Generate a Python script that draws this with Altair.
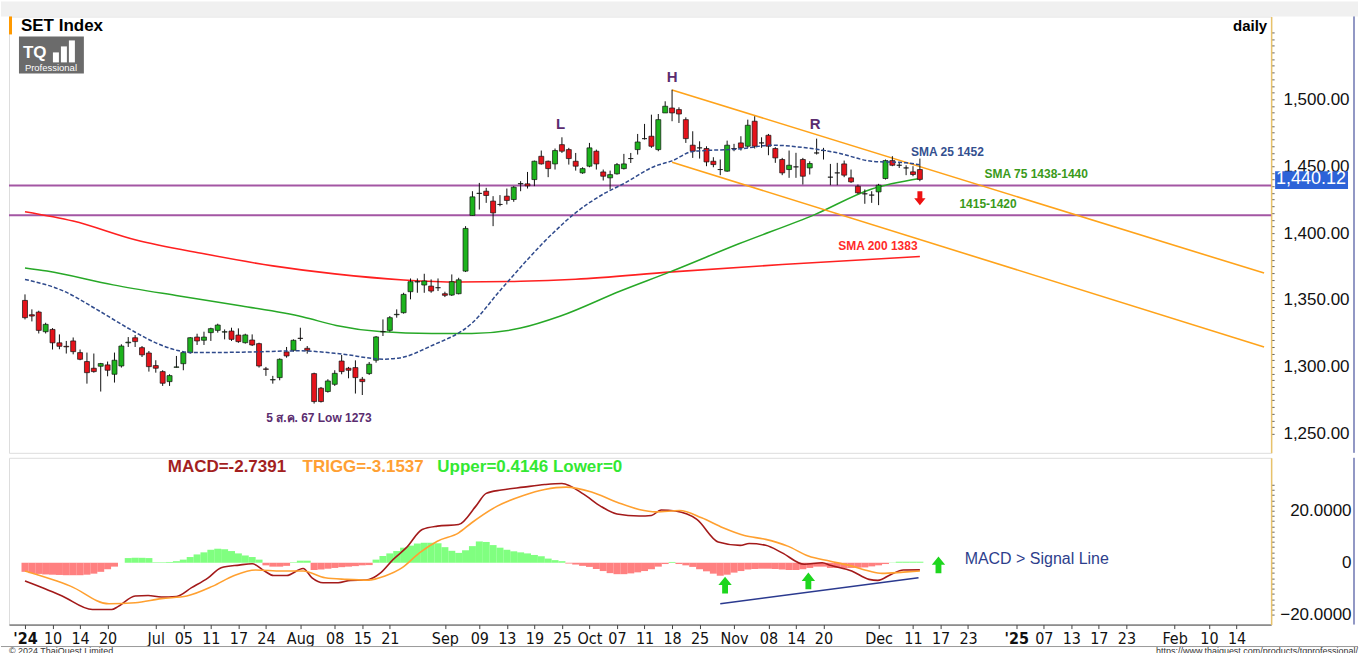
import json
import altair as alt
import pandas as pd

# ---------------- data ----------------
# trading-day index 0 = 4 Jun 2024 ... 130 = 12 Dec 2024
opens = [1349.7,1339,1341,1326.3,1328,1318,1315.4,1319.4,1310.7,1304,1299,1300.5,1301.5,1294.5,1300.7,1318,1321.8,1314.4,1310.4,1301,
         1296.5,1289,1299.7,1302.4,1310.7,1322.3,1319.9,1325.6,1327.3,1326,1326.8,1323.8,1318.1,1320.1,1317.4,1298.5,1290.3,1292,1311.2,1312.4,
         1321.4,1313.9,1295,1284.1,1281.6,1287,1304.4,1299,1299.5,1290.8,1295,1305,1326.4,1327.3,1339,1340.5,1356.2,1363.5,1361.2,1360.4,
         1359.2,1354.7,1353.7,1354.7,1371.6,1413.2,1429.6,1431.3,1423.9,1421.4,1427.6,1425.1,1436.8,1436.8,1440,1457.4,1453.7,1451.7,1466.1,1462.4,
         1453.7,1445,1450,1461.2,1445.7,1441.3,1444.3,1448.2,1455.7,1462.4,1470.6,1472.4,1462.4,1489.8,1493.5,1492.3,1484.8,1465.7,1463.7,1463.2,
         1453.7,1447.5,1446.3,1463.2,1467.4,1464.9,1483.6,1467.4,1473.1,1463.2,1455,1447.5,1449.5,1455,1448.7,1459.9,1461.7,1441.8,1445,1451.7,
         1441.3,1435,1429.4,1428.4,1430.8,1440.8,1454.2,1450.7,1448.7,1445.8,1447.5]
highs = [1354.2,1343,1342,1333,1329,1324.3,1319.4,1322,1313,1310.7,1310,1303,1304,1310.7,1316.9,1322.3,1323.8,1315.6,1311.9,1305,
         1297.5,1294.5,1308.2,1311.9,1322.3,1324.8,1326.3,1329.3,1332.3,1328,1329.3,1328.8,1324.8,1324.3,1318.1,1300,1293.3,1306.4,1314.9,1320.6,
         1329.3,1315.6,1295.7,1285,1290.8,1297.5,1308.9,1300,1304.9,1292.5,1303.7,1323.1,1335.5,1338,1343,1355.4,1366.1,1366.1,1369.6,1365.4,
         1366.1,1356.2,1369.1,1366.6,1405.2,1431.3,1437.5,1433.8,1427.6,1428.4,1433.3,1435.1,1438.8,1445.7,1454.2,1461.7,1454.2,1463.2,1471.6,1463.7,
         1459.9,1449.2,1467.4,1462.4,1447.5,1446.7,1452.4,1459.2,1459.9,1474.1,1481.6,1488.5,1489,1498.5,1507.2,1494,1486.5,1476.1,1468.6,1464.9,
         1456.7,1455,1469.1,1466.7,1472.4,1484.8,1487.3,1471.6,1474.1,1464.2,1456.2,1461.7,1460,1456.2,1453.7,1470.6,1463.7,1451.7,1452.5,1454.2,
         1447.5,1436.3,1432.6,1431.3,1436.8,1455,1457.5,1453.2,1450.7,1450,1455.7]
lows = [1335.5,1334,1325,1325,1313,1313.2,1310,1309.4,1305,1287.5,1295.7,1281.6,1293,1288.3,1299.5,1314.9,1314.9,1307.4,1296.5,1295.7,
        1285.8,1285.8,1299.5,1297.5,1309.9,1316.4,1316.4,1319.4,1325.6,1320.6,1319.4,1318,1317.4,1315.6,1299.5,1293.3,1287.5,1290,1306.9,1311.4,
        1319.4,1309.9,1272.6,1273.4,1280.8,1285.8,1294.5,1291.5,1280.1,1279,1294,1303.2,1323.1,1326.3,1336.8,1339.8,1350.5,1355.4,1355.4,1355.4,
        1356.7,1352.2,1353,1354.2,1370.9,1413,1417.6,1422.6,1405.2,1420.1,1421.4,1423.4,1431.3,1433.3,1435.1,1451.2,1441.8,1447.5,1459.9,1451.2,
        1446.7,1444.3,1449.2,1447.5,1439.3,1432.6,1443.7,1447.5,1452.4,1458.7,1469.9,1463.7,1461.2,1489.8,1483.6,1482.3,1467.4,1456.2,1455.7,1450,
        1449.2,1443.3,1445.8,1461.2,1461.7,1463.7,1463.2,1463.7,1458.2,1452.5,1443.3,1441.3,1441.3,1436.3,1443.8,1458.7,1455,1435.8,1435.8,1441.8,
        1437.5,1429.3,1421.9,1422.6,1420.9,1440,1450,1448.7,1443.3,1442.5,1438.8]
closes = [1336.8,1338,1327.3,1331.8,1318,1315.4,1315,1311.4,1305.7,1295.7,1296.5,1302.5,1297.5,1305,1315.6,1318.5,1318.9,1309,1300.2,1299,
          1287.8,1293.5,1300,1310.7,1321.8,1319.4,1322.3,1328.6,1331.3,1326.3,1320.6,1318.9,1323.9,1316.4,1300.7,1298.2,1290.5,1305.7,1308.2,1319.9,
          1321.3,1312.4,1274.1,1274.1,1289.5,1295.2,1296.5,1297.5,1292,1289,1302,1322.4,1326.3,1336.8,1339.3,1354.2,1363.7,1363.7,1364.2,1356.7,
          1359.2,1353.5,1363.7,1365.1,1403.5,1427.1,1429.8,1428.1,1415.1,1421.4,1424.4,1434.3,1437,1435.3,1453.7,1451.7,1448.2,1461.7,1461.2,1455.7,
          1450,1448.2,1463.7,1451.7,1442.5,1443.7,1451.2,1451.7,1455.7,1468.1,1470.6,1464.9,1484.8,1494.8,1489.8,1489,1470.6,1461.2,1463.7,1453.2,
          1451.2,1447.5,1465.7,1463,1463.7,1480.6,1464.9,1467.4,1464.9,1456.2,1445,1450.7,1449.5,1442.5,1452,1459.9,1461.7,1441.8,1445,1443.3,
          1438.3,1430.1,1429.3,1428.4,1435.8,1454.2,1450.7,1450.7,1448.7,1443.8,1440.12]

sma25_x = [0,5.6,10.4,15.3,19,22.4,24.3,31.5,40,46.2,52,54.4,59,65,69,77,79.7,84.3,87,91.5,94,97,104,108.5,113,118,123,128,130]
sma25_y = [1365.4,1356.7,1343,1328,1318,1312,1310.7,1311,1312,1309.5,1305.8,1306.7,1315.7,1333,1357,1401.5,1414,1430,1437,1450,1454,1461,1463,1465.7,1464,1460,1453.7,1452.5,1451]
sma75_x = [0,3.2,12.8,22.4,31.5,40.4,45.2,51.5,59.1,64.9,72,77.8,86.5,93.7,103.7,114.8,122.9,130]
sma75_y = [1374,1371.6,1361.3,1353,1345.5,1337.3,1331,1326.4,1324.9,1325,1329,1338,1356.7,1371,1392,1414,1432.8,1440.8]
sma200_x = [0,7,16,26,36,45,55,63,72,80,94,110,130]
sma200_y = [1416,1409,1395,1384.5,1375.5,1369.5,1365,1363.5,1364,1365.5,1371,1376.5,1382.5]

trend_x = [94, 180, 94, 180]
trend_y = [1507.0, 1370.1, 1453.0, 1314.9]
trend_id = ["upper", "upper", "lower", "lower"]
support_levels = [1435.5, 1413.4]

macd_x = [0,2.9,5.4,9.8,12.6,13.5,16,17.9,19.8,22,24.2,26.6,28.5,31.1,33,34.8,36.1,38,40.4,41.7,43.3,45.5,47.3,49.5,51.7,53.5,55.4,57.7,59.9,63,
          65.5,67,69.2,72.4,75.5,78,81.2,83.6,86,89.2,91,92.4,94.5,97.6,100.7,103.9,105.2,107.6,110,113.2,115.8,117,120.1,122.6,123.9,125.8,127.6,130]
macd_y = [-7,-10,-12.8,-18,-18,-16.9,-12.8,-12.6,-13.2,-13,-9.6,-5.8,-1.9,-0.9,-0.4,-3.2,-4.9,-4.9,-2.2,-5.8,-7.7,-7.7,-6.8,-6.7,-3.8,1.3,5.8,12.8,14.1,14.7,
          21.8,26.7,28,29.1,30.1,30.5,26.3,21.8,18.8,18,18.2,20.3,19.9,16.7,8,6.7,7.4,6.7,3.8,-0.6,0,-1,-3.2,-6.4,-6.8,-4.5,-2.8,-2.74]
trigg_x = [0,6.6,12.2,16,19.8,23.5,27.3,30.4,33.5,37.3,40.4,43.6,46.7,49.8,52.3,54.8,57.3,59.9,63,64.9,68.6,72.4,75.5,78.6,82.3,86,89.2,91.7,95.1,98.3,
           101.4,104.5,107.6,110.8,113.8,117,120.1,122.6,124.5,127.6,130]
trigg_y = [-3.2,-9,-15.8,-15.4,-13.8,-12.8,-9,-4.9,-2.8,-3.2,-3.2,-5.8,-6.4,-6.7,-5.1,-1.9,3.8,8.3,11.5,15.4,21.8,25.9,28.2,29.1,27.2,23.3,20.5,19.6,20.1,17.3,
           13.5,10.5,9,6.4,2.6,0.6,-1.3,-3.2,-4.1,-3.6,-3.15]
hist = [-3.5,-4.0,-4.3,-4.5,-4.6,-4.7,-4.8,-4.8,-4.8,-4.6,-4.2,-3.5,-2.5,-1.5,
        0.0,
        1.8,1.9,1.9,1.8,
        0.2,0.2,0.3,0.6,
        1.2,2.2,3.2,4.0,5.0,5.4,5.2,4.5,3.6,2.8,2.2,1.2,
        -1.0,-1.5,-1.5,-1.2,
        0.2,0.8,0.8,
        -2.8,-2.6,-2.3,-2.0,-1.7,-1.5,-1.3,-1.0,-0.9,
        1.2,2.6,3.6,4.5,5.8,6.6,7.4,7.7,7.7,7.5,6.0,4.6,3.8,4.8,6.4,8.2,8.0,6.8,5.8,5.0,4.4,4.0,3.6,3.0,2.5,1.6,1.0,0.6,
        -0.3,-0.7,-1.2,-1.6,-2.4,-3.2,-4.0,-4.4,-4.4,-4.1,-3.7,-3.2,-2.5,-1.5,-0.5,
        0.3,
        -0.5,-1.0,-1.6,-2.5,-3.3,-4.2,-5.0,-4.6,-3.8,-3.2,-2.6,-2.4,-2.3,-2.3,-2.4,-2.6,-2.8,-2.8,-2.5,-2.0,
        -1.5,-1.5,-2.0,-2.0,-2.0,-2.0,-1.9,-1.8,-1.4,-1.0,-0.5,0.1,
        0.4,0.4,0.4,0.4]
macd_trend_x = [101, 129.8]
macd_trend_y = [-15.8, -5.8]
up_arrow_x = [101.7, 113.8, 132.7]
up_arrow_y = [-8.6, -7.0, -0.8]

tick_pos = [0,4,8,12,19,23,27,31,35,40,45,49,53,61,66,70,74,78,82,86,90,94,98,103,108,112,116,124,129,133,137,144,148,152,156,160,167,172,176]
tick_text = ["'24","10","14","20","Jul","05","11","17","24","Aug","08","15","21","Sep","09","13","19","25","Oct","07","11","18","25",
             "Nov","08","14","20","Dec","11","17","23","'25","07","13","17","23","Feb","10","14"]

ann_text = ["H", "L", "R", "SMA 25 1452", "SMA 75 1438-1440", "1415-1420", "SMA 200 1383", "5 ส.ค. 67 Low 1273"]
ann_x = [94, 77.8, 114.8, 134, 146.9, 139.9, 123.9, 42.7]
ann_y = [1516.4, 1481.3, 1481.3, 1460.4, 1444, 1421.6, 1390.3, 1262]
ann_color = ["#5b2c6f", "#5b2c6f", "#5b2c6f", "#34508f", "#3a9a1a", "#3a9a1a", "#ff2a2a", "#5b2c6f"]
ann_size = [15, 15, 15, 12, 12, 12, 12, 12]

last_close = 1440.12

n = len(opens)
assert len(highs) == n and len(lows) == n and len(closes) == n and len(hist) == n

# ---------------- chart ----------------
W, H1, H2 = 1264, 437, 167
FONT = "Liberation Sans"
xs = alt.Scale(domain=[-1.6, 180.3], nice=False, zero=False)
ys = alt.Scale(domain=[1235.8, 1561.9], nice=False, zero=False)
ms = alt.Scale(domain=[-23.8, 40.4], nice=False, zero=False)

price_axis = alt.Axis(orient="right", values=list(range(1250, 1551, 5)),
                      labelExpr="(datum.value % 50 == 0 && datum.value <= 1500) ? format(datum.value, ',.2f') : ''",
                      tickSize=3, tickColor="#666", domainColor="#e8c26a", domainWidth=1.5,
                      labelFontSize=17, labelFont=FONT, labelColor="#111", labelAlign="right",
                      labelBaseline="middle", labelPadding=75, labelOverlap=False, grid=False, title=None)
macd_axis = alt.Axis(orient="right", values=list(range(-20, 31, 2)),
                     labelExpr="datum.value == 0 ? '0' : (abs(datum.value) == 20 ? format(datum.value, '.4f') : '')",
                     tickSize=3, tickColor="#666", domainColor="#e8c26a", domainWidth=1.5,
                     labelFontSize=17, labelFont=FONT, labelColor="#111", labelAlign="right",
                     labelBaseline="middle", labelPadding=77, labelOverlap=False, grid=False, title=None)
time_axis = alt.Axis(values=tick_pos,
                     labelExpr=f"{json.dumps(tick_text)}[indexof({json.dumps(tick_pos)}, datum.value)]",
                     labelFontSize=16, labelFont="Liberation Sans Narrow, DejaVu Sans Condensed, sans-serif",
                     labelFontWeight={"condition": {"test": "datum.value == 0 || datum.value == 144", "value": "bold"}, "value": "normal"},
                     labelColor="#111", labelPadding=2, tickSize=4, tickColor="#444", domainColor="#444",
                     labelOverlap=False, labelFlush=False, grid=False, title=None)

def PX(f):
    return alt.X(f, type="quantitative", scale=xs, axis=None)

def PY(f):
    return alt.Y(f, type="quantitative", scale=ys, axis=price_axis)

def MX(f):
    return alt.X(f, type="quantitative", scale=xs, axis=time_axis)

def MY(f):
    return alt.Y(f, type="quantitative", scale=ms, axis=macd_axis)

one = pd.DataFrame({"a": [0]})

candles = pd.DataFrame({"i": list(range(n)), "o": opens, "h": highs, "l": lows, "c": closes})
candles["col"] = ["#1db31d" if c >= o else "#e5131b" for o, c in zip(opens, closes)]

band = alt.Chart(one).mark_rect(color="#f0f0f0").encode(
    x=alt.value(-8), x2=alt.value(1351), y=alt.value(-15), y2=alt.value(0))
orange_tag = alt.Chart(one).mark_rect(color="#ff9900").encode(
    x=alt.value(0), x2=alt.value(3), y=alt.value(0), y2=alt.value(18))
right_frame = alt.Chart(one).mark_rule(color="#24318a", strokeWidth=1).encode(
    x=alt.value(1347), y=alt.value(0), y2=alt.value(H1))

supports = alt.Chart(pd.DataFrame({"y": support_levels})).mark_rule(color="#a356a3", strokeWidth=2).encode(y=PY("y"))

sma200 = alt.Chart(pd.DataFrame({"x": sma200_x, "y": sma200_y})).mark_line(
    color="#ff2020", strokeWidth=1.6, interpolate="monotone").encode(x=PX("x"), y=PY("y"))
sma75 = alt.Chart(pd.DataFrame({"x": sma75_x, "y": sma75_y})).mark_line(
    color="#27a827", strokeWidth=1.5, interpolate="monotone").encode(x=PX("x"), y=PY("y"))
sma25 = alt.Chart(pd.DataFrame({"x": sma25_x, "y": sma25_y})).mark_line(
    color="#2f4a8c", strokeWidth=1.5, strokeDash=[4, 2], interpolate="monotone").encode(x=PX("x"), y=PY("y"))
trends = alt.Chart(pd.DataFrame({"x": trend_x, "y": trend_y, "k": trend_id})).mark_line(
    color="#ffa31a", strokeWidth=1.6).encode(x=PX("x"), y=PY("y"), detail="k:N")

wicks = alt.Chart(candles).mark_rule(color="#111", strokeWidth=1).encode(x=PX("i"), y=PY("l"), y2="h:Q")
bodies = alt.Chart(candles).mark_bar(size=5, stroke="#111", strokeWidth=0.7).encode(
    x=PX("i"), y=PY("o"), y2="c:Q", color=alt.Color("col:N", scale=None))

ann = pd.DataFrame({"x": ann_x, "y": ann_y, "t": ann_text, "col": ann_color, "fs": ann_size})
ann_layer = alt.Chart(ann).mark_text(fontWeight="bold", font=FONT, baseline="middle").encode(
    x=PX("x"), y=PY("y"), text="t:N", color=alt.Color("col:N", scale=None), size=alt.Size("fs:Q", scale=None))

down_arrow = alt.Chart(pd.DataFrame({"x": [130], "y": [1426]})).mark_point(
    shape="M-0.35,-1L0.35,-1L0.35,0L0.8,0L0,1L-0.8,0L-0.35,0Z", filled=True, color="#ee1111", size=200, opacity=1).encode(
    x=PX("x"), y=PY("y"))

price_box = alt.Chart(pd.DataFrame({"y1": [1446.3], "y2": [1433.0]})).mark_rect(color="#2d63d8").encode(
    x=alt.value(1268), x2=alt.value(1341), y=PY("y1"), y2="y2:Q")
price_box_text = alt.Chart(pd.DataFrame({"y": [last_close], "t": [f"{last_close:,.2f}"]})).mark_text(
    color="white", fontSize=18, font=FONT, align="center", baseline="middle").encode(
    x=alt.value(1304), y=PY("y"), text="t:N")

title_txt = alt.Chart(one).mark_text(text="SET Index", font=FONT, fontSize=17, fontWeight="bold",
                                     align="left", baseline="middle", color="#000").encode(x=alt.value(12), y=alt.value(10))
daily_txt = alt.Chart(one).mark_text(text="daily", font=FONT, fontSize=15, fontWeight="bold",
                                     align="right", baseline="middle", color="#000").encode(x=alt.value(1260), y=alt.value(10))
logo_bg = alt.Chart(one).mark_rect(color="#6b6b6b").encode(
    x=alt.value(10), x2=alt.value(75), y=alt.value(20), y2=alt.value(57))
logo_tq = alt.Chart(one).mark_text(text="TQ", font=FONT, fontSize=17, fontWeight="bold", color="white",
                                   align="left", baseline="middle").encode(x=alt.value(14), y=alt.value(37))
logo_bars = alt.Chart(pd.DataFrame({"x1": [44, 52, 60], "x2": [50, 58, 66], "y1": [36, 30, 24], "y2": [46, 46, 46]})).mark_rect(
    color="white").encode(x=alt.X("x1:Q", scale=None), x2="x2:Q", y=alt.Y("y1:Q", scale=None), y2="y2:Q")
logo_pro = alt.Chart(one).mark_text(text="Professional", font=FONT, fontSize=9.5, color="white",
                                    align="center", baseline="middle").encode(x=alt.value(42), y=alt.value(52))

price = alt.layer(
    band, orange_tag, right_frame, supports, sma200, sma75, trends, wicks, bodies, sma25,
    ann_layer, down_arrow, price_box, price_box_text, title_txt, daily_txt, logo_bg, logo_tq, logo_bars, logo_pro
).properties(width=W, height=H1)

# ---- MACD panel ----
hdf = pd.DataFrame({"i": list(range(n)), "h": hist})
hdf["col"] = ["#80ff80" if v >= 0 else "#ff8080" for v in hist]
hist_layer = alt.Chart(hdf).mark_bar(size=7).encode(
    x=MX("i"), y=MY("h"), y2=alt.datum(0), color=alt.Color("col:N", scale=None))
macd_line = alt.Chart(pd.DataFrame({"x": macd_x, "y": macd_y})).mark_line(
    color="#a31a1a", strokeWidth=1.6, interpolate="monotone").encode(x=MX("x"), y=MY("y"))
trigg_line = alt.Chart(pd.DataFrame({"x": trigg_x, "y": trigg_y})).mark_line(
    color="#ffa030", strokeWidth=1.6, interpolate="monotone").encode(x=MX("x"), y=MY("y"))
macd_trend = alt.Chart(pd.DataFrame({"x": macd_trend_x, "y": macd_trend_y})).mark_line(
    color="#2b3a8f", strokeWidth=1.6).encode(x=MX("x"), y=MY("y"))
up_arrows = alt.Chart(pd.DataFrame({"x": up_arrow_x, "y": up_arrow_y})).mark_point(
    shape="M-0.35,1L0.35,1L0.35,0L0.8,0L0,-1L-0.8,0L-0.35,0Z", filled=True, color="#1ed61e", size=280, opacity=1).encode(
    x=MX("x"), y=MY("y"))
signal_note = alt.Chart(pd.DataFrame({"x": [136.5], "y": [1.5], "t": ["MACD > Signal Line"]})).mark_text(
    font=FONT, fontSize=16, color="#2d3e8c", align="left", baseline="middle").encode(x=MX("x"), y=MY("y"), text="t:N")

hdr = pd.DataFrame({"px": [159, 294, 429], "t": ["MACD=-2.7391", "TRIGG=-3.1537", "Upper=0.4146 Lower=0"],
                    "col": ["#a31f1f", "#ffa033", "#33e833"]})
hdr_layer = alt.Chart(hdr).mark_text(font=FONT, fontSize=17, fontWeight="bold", align="left", baseline="middle").encode(
    x=alt.X("px:Q", scale=None), y=alt.value(9), text="t:N", color=alt.Color("col:N", scale=None))
frame2 = alt.Chart(one).mark_rule(color="#24318a", strokeWidth=1).encode(
    x=alt.value(1347), y=alt.value(0), y2=alt.value(H2))
foot_rule = alt.Chart(one).mark_rule(color="#999", strokeWidth=1).encode(
    x=alt.value(-8), x2=alt.value(1351), y=alt.value(189))
foot_l = alt.Chart(one).mark_text(text="© 2024 ThaiQuest Limited", font=FONT, fontSize=9, color="#333",
                                  align="left", baseline="middle").encode(x=alt.value(0), y=alt.value(193))
foot_r = alt.Chart(one).mark_text(text="https://www.thaiquest.com/products/tqprofessional/", font=FONT, fontSize=9,
                                  color="#333", align="right", baseline="middle").encode(x=alt.value(1351), y=alt.value(193))

macd = alt.layer(
    hist_layer, macd_line, trigg_line, macd_trend, up_arrows, signal_note, hdr_layer, frame2, foot_rule, foot_l, foot_r
).properties(width=W, height=H2)

chart = alt.vconcat(price, macd, spacing=3).properties(
    padding={"left": 0, "top": 0, "right": 0, "bottom": 0}, background="white"
).configure_view(stroke="#444", strokeWidth=1).configure(font=FONT)

chart.save("out.html", embed_options={"renderer": "svg", "actions": False})
